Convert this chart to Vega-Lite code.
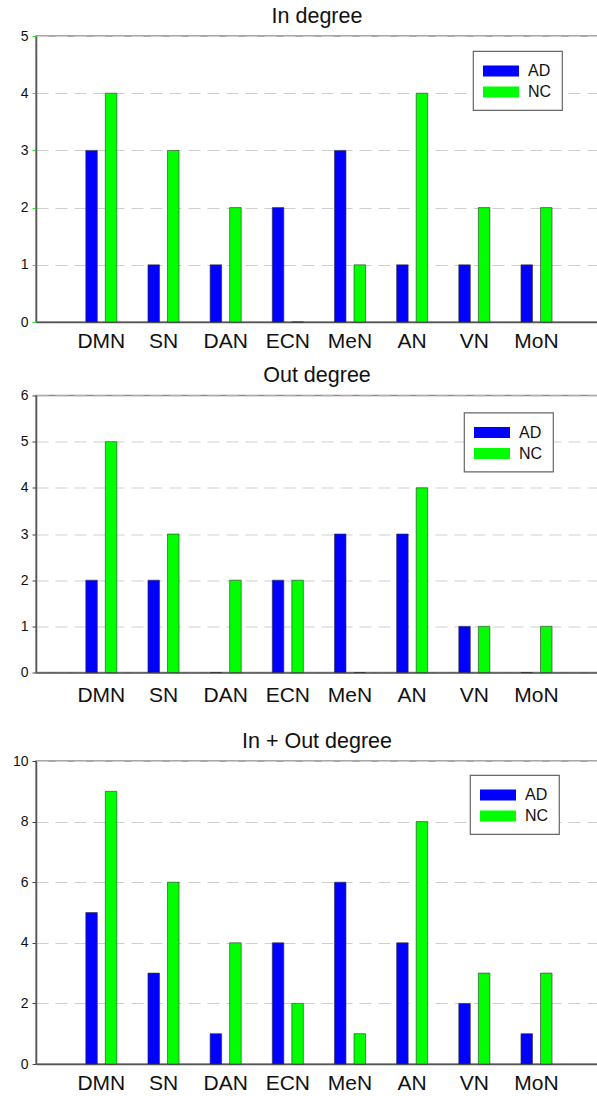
{
  "$schema": "https://vega.github.io/schema/vega-lite/v6.json",
  "padding": {"left": 11, "top": 4, "right": 0, "bottom": 0},
  "background": "white",
  "spacing": 11.5,
  "config": {
    "font": "Liberation Sans",
    "view": {"stroke": "#8a8a8a", "strokeWidth": 1.5},
    "title": {"fontSize": 21.5, "fontWeight": "normal", "color": "#111", "offset": 2},
    "axisX": {"title": null, "labelAngle": 0, "labelFontSize": 21, "labelColor": "#111", "ticks": false, "labelPadding": 8, "domainColor": "#555", "domainWidth": 1.5, "grid": false},
    "axisY": {"title": null, "labelFontSize": 14, "labelColor": "#111", "tickSize": 4, "labelPadding": 4, "domainColor": "#555", "domainWidth": 1.5, "grid": true, "gridColor": "#cfcfcf", "gridDash": [12, 7], "gridWidth": 1.2},
    "legend": {"orient": "none", "legendX": 435, "legendY": 15, "title": null, "strokeColor": "#666", "strokeWidth": 1.2, "fillColor": "white", "padding": 10, "labelFontSize": 16, "labelColor": "#111", "symbolType": "M-1,-0.55H2.6V0.55H-1Z", "symbolSize": 400, "symbolStrokeWidth": 0, "labelOffset": 25, "rowPadding": 3}
  },
  "datasets": {
    "d": [
      {"net": "DMN", "group": "AD", "in": 3, "out": 2, "total": 5},
      {"net": "DMN", "group": "NC", "in": 4, "out": 5, "total": 9},
      {"net": "SN", "group": "AD", "in": 1, "out": 2, "total": 3},
      {"net": "SN", "group": "NC", "in": 3, "out": 3, "total": 6},
      {"net": "DAN", "group": "AD", "in": 1, "out": 0, "total": 1},
      {"net": "DAN", "group": "NC", "in": 2, "out": 2, "total": 4},
      {"net": "ECN", "group": "AD", "in": 2, "out": 2, "total": 4},
      {"net": "ECN", "group": "NC", "in": 0, "out": 2, "total": 2},
      {"net": "MeN", "group": "AD", "in": 3, "out": 3, "total": 6},
      {"net": "MeN", "group": "NC", "in": 1, "out": 0, "total": 1},
      {"net": "AN", "group": "AD", "in": 1, "out": 3, "total": 4},
      {"net": "AN", "group": "NC", "in": 4, "out": 4, "total": 8},
      {"net": "VN", "group": "AD", "in": 1, "out": 1, "total": 2},
      {"net": "VN", "group": "NC", "in": 2, "out": 1, "total": 3},
      {"net": "MoN", "group": "AD", "in": 1, "out": 0, "total": 1},
      {"net": "MoN", "group": "NC", "in": 2, "out": 1, "total": 3}
    ]
  },
  "resolve": {"scale": {"y": "independent"}, "legend": {"color": "independent"}},
  "vconcat": [
    {
      "title": "In degree",
      "width": 562, "height": 286,
      "data": {"name": "d"},
      "mark": {"type": "bar", "stroke": "#333", "strokeWidth": 0.6},
      "encoding": {
        "x": {"field": "net", "type": "nominal", "sort": ["DMN", "SN", "DAN", "ECN", "MeN", "AN", "VN", "MoN"], "scale": {"paddingInner": 0.5, "paddingOuter": 0.77, "align": 0.52}},
        "xOffset": {"field": "group", "type": "nominal", "scale": {"paddingInner": 0.41, "paddingOuter": 0}},
        "y": {"field": "in", "type": "quantitative", "scale": {"domain": [0, 5]}, "axis": {"values": [0, 1, 2, 3, 4, 5], "tickColor": "#22ee22"}},
        "color": {"field": "group", "type": "nominal", "scale": {"domain": ["AD", "NC"], "range": ["#0000ff", "#00ff00"]}, "legend": {"legendX": 437, "legendY": 15}}
      }
    },
    {
      "title": "Out degree",
      "width": 562, "height": 277,
      "data": {"name": "d"},
      "mark": {"type": "bar", "stroke": "#333", "strokeWidth": 0.6},
      "encoding": {
        "x": {"field": "net", "type": "nominal", "sort": ["DMN", "SN", "DAN", "ECN", "MeN", "AN", "VN", "MoN"], "scale": {"paddingInner": 0.5, "paddingOuter": 0.77, "align": 0.52}, "axis": {"labelPadding": 12, "title": " ", "titleFontSize": 12, "titlePadding": 0}},
        "xOffset": {"field": "group", "type": "nominal", "scale": {"paddingInner": 0.41, "paddingOuter": 0}},
        "y": {"field": "out", "type": "quantitative", "scale": {"domain": [0, 6]}, "axis": {"values": [0, 1, 2, 3, 4, 5, 6], "tickColor": "#444"}},
        "color": {"field": "group", "type": "nominal", "scale": {"domain": ["AD", "NC"], "range": ["#0000ff", "#00ff00"]}, "legend": {"legendX": 428, "legendY": 17}}
      }
    },
    {
      "title": "In + Out degree",
      "width": 562, "height": 303,
      "data": {"name": "d"},
      "mark": {"type": "bar", "stroke": "#333", "strokeWidth": 0.6},
      "encoding": {
        "x": {"field": "net", "type": "nominal", "sort": ["DMN", "SN", "DAN", "ECN", "MeN", "AN", "VN", "MoN"], "scale": {"paddingInner": 0.5, "paddingOuter": 0.77, "align": 0.52}},
        "xOffset": {"field": "group", "type": "nominal", "scale": {"paddingInner": 0.41, "paddingOuter": 0}},
        "y": {"field": "total", "type": "quantitative", "scale": {"domain": [0, 10]}, "axis": {"values": [0, 2, 4, 6, 8, 10], "tickColor": "#444"}},
        "color": {"field": "group", "type": "nominal", "scale": {"domain": ["AD", "NC"], "range": ["#0000ff", "#00ff00"]}, "legend": {"legendX": 434, "legendY": 14}}
      }
    }
  ]
}
